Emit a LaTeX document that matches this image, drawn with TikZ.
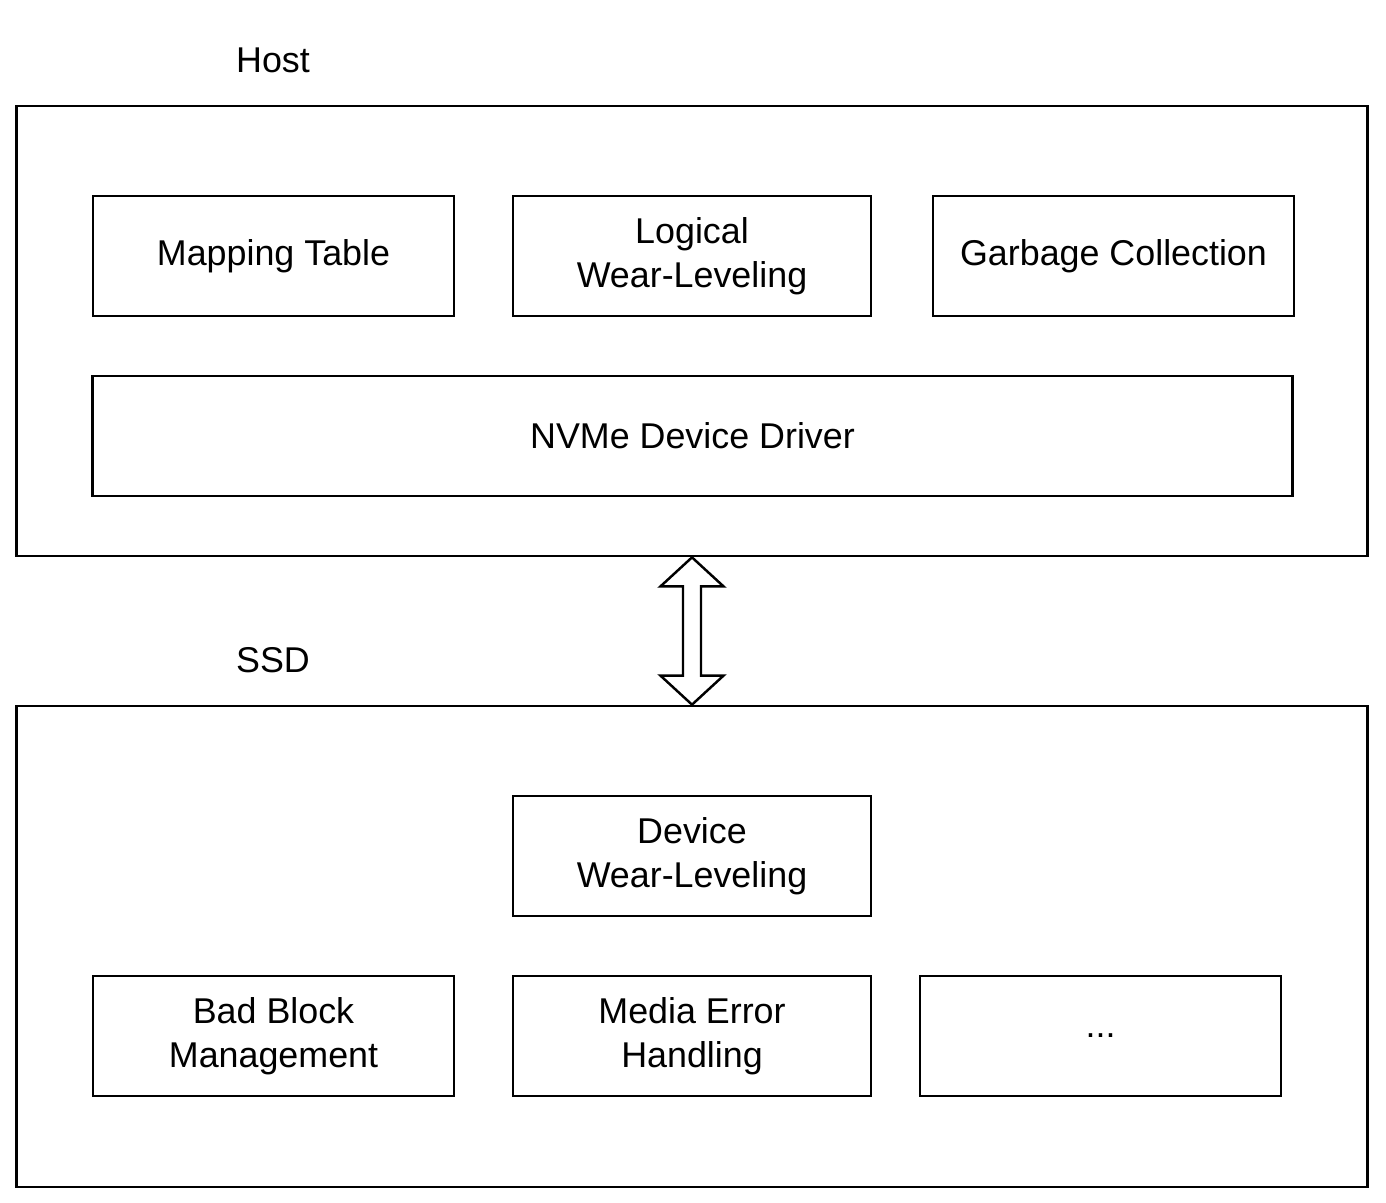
\documentclass[tikz,border=0pt]{standalone}
\usepackage{fontspec}
\setmainfont{Liberation Sans}
\usepackage{tikz}
\usetikzlibrary{calc}

\begin{document}
\begin{tikzpicture}[x=0.02cm, y=-0.02cm,
  layer/.style={draw, line width=1.6pt, minimum width=27.04cm, inner sep=0pt},
  module/.style={draw, line width=1.6pt, minimum height=2.4cm, inner sep=0pt, align=center,
    font=\fontsize{20.4}{25}\selectfont},
  lbl/.style={font=\fontsize{20.4}{25}\selectfont, inner sep=0pt},
  bus/.style={draw, line width=1.4pt, line join=miter, fill=white}
]
\useasboundingbox (0,0) rectangle (1386,1203);
% host side
\node[lbl] (hostlbl) at (273,60) {Host};
\node[layer, minimum height=9cm] (host) at (692,331) {};
\node[module, minimum width=7.22cm] (map) at (273.5,256) {Mapping Table};
\node[module, minimum width=7.16cm] (lwl) at (692,256) {Logical\\Wear-Leveling};
\node[module, minimum width=7.22cm] (gc) at (1113.5,256) {Garbage Collection};
\node[module, minimum width=24.02cm] (nvme) at (692.5,436) {NVMe Device Driver};
% ssd side
\node[lbl] (ssdlbl) at (273,660) {SSD};
\node[layer, minimum height=9.62cm] (ssd) at (692,946.5) {};
\node[module, minimum width=7.16cm] (dwl) at (692,856) {Device\\Wear-Leveling};
\node[module, minimum width=7.22cm] (bbm) at (273.5,1036) {Bad Block\\Management};
\node[module, minimum width=7.16cm] (meh) at (692,1036) {Media Error\\Handling};
\node[module, minimum width=7.22cm] (etc) at (1100.5,1036) {...};
% link between host and ssd
\coordinate (top) at (host.south);
\coordinate (bot) at (ssd.north);
\draw[bus] (top) -- ++(31.5,29) -- ++(-22.5,0) -- ($(bot)+(9,-29)$) -- ++(22.5,0)
  -- (bot) -- ++(-31.5,-29) -- ++(22.5,0) -- ($(top)+(-9,29)$) -- ++(-22.5,0) -- cycle;
\end{tikzpicture}
\end{document}
